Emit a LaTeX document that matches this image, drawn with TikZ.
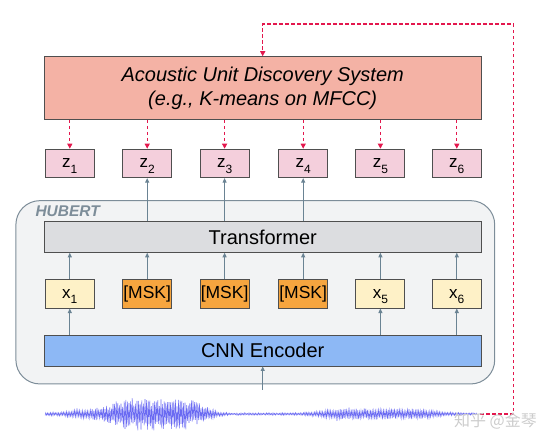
\documentclass[tikz,border=0pt]{standalone}
\usepackage{fontspec}
\setmainfont{Liberation Sans}
\newfontfamily\cjkfont{Noto Sans CJK SC}
\usetikzlibrary{arrows.meta}

\definecolor{unitred}{HTML}{E3174D}
\definecolor{boxgray}{HTML}{4F4F4F}
\definecolor{arrowgray}{HTML}{6A8393}
\definecolor{audfill}{HTML}{F4B2A5}
\definecolor{zfill}{HTML}{F4CFDC}
\definecolor{xfill}{HTML}{FEF1C7}
\definecolor{mskfill}{HTML}{F6A53F}
\definecolor{trfill}{HTML}{DCDDE0}
\definecolor{cnnfill}{HTML}{8DB8F5}
\definecolor{hubfill}{HTML}{F2F3F4}
\definecolor{hubedge}{HTML}{7D8D99}
\definecolor{wavecolor}{HTML}{6A6AF2}

\newcommand{\lowidx}[1]{\smash{\raisebox{-5.5pt}{\fontsize{12}{12}\selectfont #1}}}

\begin{document}
\begin{tikzpicture}[x=1pt, y=-1pt,
      block/.style={draw=boxgray, line width=0.9pt, inner sep=0pt, minimum width=437pt},
      token/.style={draw=boxgray, line width=0.9pt, inner sep=0pt, minimum width=49pt, minimum height=28.5pt, font=\fontsize{17}{17}\selectfont},
      flowarrow/.style={draw=arrowgray, line width=0.9pt, -{Triangle[length=4.5pt, width=4pt]}},
      unitarrow/.style={draw=unitred, line width=1.2pt, dash pattern=on 3.5pt off 2.5pt, -{Triangle[length=5pt, width=5pt]}},
      declare function={env(\u)=1.2+16*exp(-min((abs(\u-157)/50)^4,9))+3.5*exp(-min(((\u-88)/28)^2,9))+4.5*exp(-min((abs(\u-378)/62)^4,9));}]
   \useasboundingbox (0,0) rectangle (554,444);
   \pgfmathsetseed{11}

   \node[draw=hubedge, fill=hubfill, line width=1pt, rounded corners=24pt, minimum width=478.8pt, minimum height=183.3pt] (hubert) at (255.3, 292.3) {};
   \node[anchor=west, inner sep=0pt, text=hubedge, font=\fontsize{15.5}{15.5}\selectfont\bfseries\itshape] (hubert-label) at (35.3, 211.7) {HUBERT};

   \node[block, fill=audfill, minimum height=62.6pt, align=center, font=\fontsize{20}{24}\selectfont\itshape] (aud) at (262.7, 88) {Acoustic Unit Discovery System\\(e.g., K-means on MFCC)};
   \node[block, fill=trfill, minimum height=30.6pt, font=\fontsize{20}{20}\selectfont] (transformer) at (262.7, 237) {Transformer};
   \node[block, fill=cnnfill, minimum height=31pt, font=\fontsize{20}{20}\selectfont] (cnn) at (262.7, 350.5) {CNN Encoder};

   \begin{scope}[name prefix = z-]
      \node[token, fill=zfill] (1) at (69.8, 163.4) {z\lowidx{1}};
      \node[token, fill=zfill] (2) at (147.2, 163.4) {z\lowidx{2}};
      \node[token, fill=zfill] (3) at (224.6, 163.4) {z\lowidx{3}};
      \node[token, fill=zfill] (4) at (303.2, 163.4) {z\lowidx{4}};
      \node[token, fill=zfill] (5) at (380.4, 163.4) {z\lowidx{5}};
      \node[token, fill=zfill] (6) at (456.8, 163.4) {z\lowidx{6}};
   \end{scope}

   \begin{scope}[name prefix = x-]
      \node[token, fill=xfill] (1) at (69.8, 293.8) {x\lowidx{1}};
      \node[token, fill=mskfill, font=\fontsize{17.5}{17.5}\selectfont] (2) at (147.2, 293.8) {[MSK]};
      \node[token, fill=mskfill, font=\fontsize{17.5}{17.5}\selectfont] (3) at (224.6, 293.8) {[MSK]};
      \node[token, fill=mskfill, font=\fontsize{17.5}{17.5}\selectfont] (4) at (303.2, 293.8) {[MSK]};
      \node[token, fill=xfill] (5) at (380.4, 293.8) {x\lowidx{5}};
      \node[token, fill=xfill] (6) at (456.8, 293.8) {x\lowidx{6}};
   \end{scope}

   % speech input
   \node[minimum width=434.6pt, minimum height=48pt, inner sep=0pt] (wave) at (262.7, 414) {};
   \draw[wavecolor, line width=0.5pt] plot[domain=0:540, samples=541, variable=\t]
      ({45+0.8*\t}, {414+(1-2*mod(\t,2))*(0.45+0.55*rnd)*env(45+0.8*\t)});
   \coordinate (loop-top) at (513.4, 24);

   \begin{scope}
      \draw[unitarrow] (wave.east) -| (loop-top) -| (aud.north);
      \draw[unitarrow] (aud.south -| z-1) -- (z-1);
      \draw[unitarrow] (aud.south -| z-2) -- (z-2);
      \draw[unitarrow] (aud.south -| z-3) -- (z-3);
      \draw[unitarrow] (aud.south -| z-4) -- (z-4);
      \draw[unitarrow] (aud.south -| z-5) -- (z-5);
      \draw[unitarrow] (aud.south -| z-6) -- (z-6);
      \draw[flowarrow] (transformer.north -| z-2) -- (z-2);
      \draw[flowarrow] (transformer.north -| z-3) -- (z-3);
      \draw[flowarrow] (transformer.north -| z-4) -- (z-4);
      \draw[flowarrow] (x-1) -- (x-1 |- transformer.south);
      \draw[flowarrow] (x-2) -- (x-2 |- transformer.south);
      \draw[flowarrow] (x-3) -- (x-3 |- transformer.south);
      \draw[flowarrow] (x-4) -- (x-4 |- transformer.south);
      \draw[flowarrow] (x-5) -- (x-5 |- transformer.south);
      \draw[flowarrow] (x-6) -- (x-6 |- transformer.south);
      \draw[flowarrow] (x-1 |- cnn.north) -- (x-1);
      \draw[flowarrow] (x-5 |- cnn.north) -- (x-5);
      \draw[flowarrow] (x-6 |- cnn.north) -- (x-6);
      \draw[flowarrow] (wave) -- (cnn);
   \end{scope}

   \node[text=black!20, font=\cjkfont\fontsize{16}{16}\selectfont] (watermark) at (495.5, 421) {知乎 @金琴};
\end{tikzpicture}
\end{document}
